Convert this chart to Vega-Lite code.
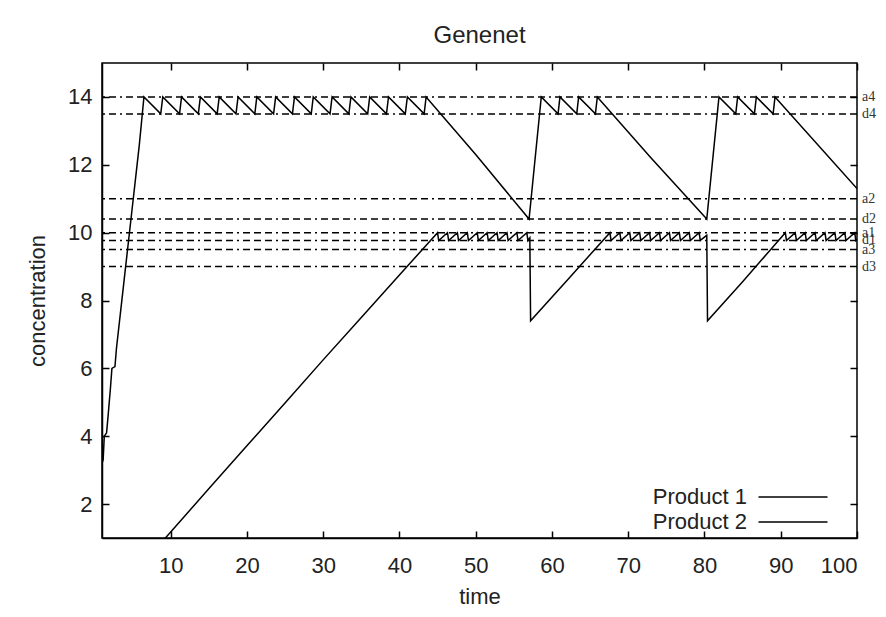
{
  "$schema": "https://vega.github.io/schema/vega-lite/v6.json",
  "width": 755,
  "height": 475,
  "autosize": {"type": "none"},
  "padding": {"left": 102, "top": 63, "right": 29, "bottom": 79},
  "background": "white",
  "title": {"text": "Genenet", "fontSize": 24, "font": "Liberation Sans", "fontWeight": "normal", "color": "#222", "offset": 14, "anchor": "middle"},
  "config": {
    "view": {"stroke": "black", "strokeWidth": 1.5},
    "axis": {"domainColor": "black", "domainWidth": 1.5, "tickColor": "black", "tickWidth": 1.5, "tickSize": -7, "grid": false,
      "labelFont": "Liberation Sans", "labelFontSize": 22, "labelColor": "#222", "titleFont": "Liberation Sans", "titleFontSize": 22, "titleFontWeight": "normal", "titleColor": "#222"}
  },
  "datasets": {
    "curves": [
      {"t": 1, "c": 3.2, "series": "Product 1"}, {"t": 1.15, "c": 3.3, "series": "Product 1"}, {"t": 1.3, "c": 4.0, "series": "Product 1"}, {"t": 1.6, "c": 4.1, "series": "Product 1"}, {"t": 1.8, "c": 4.6, "series": "Product 1"}, {"t": 2.1, "c": 5.4, "series": "Product 1"}, {"t": 2.3, "c": 6.0, "series": "Product 1"}, {"t": 2.7, "c": 6.05, "series": "Product 1"}, {"t": 2.9, "c": 6.6, "series": "Product 1"}, {"t": 3.4, "c": 7.6, "series": "Product 1"}, {"t": 3.9, "c": 8.6, "series": "Product 1"}, {"t": 4.4, "c": 9.6, "series": "Product 1"}, {"t": 4.9, "c": 10.6, "series": "Product 1"}, {"t": 5.4, "c": 11.6, "series": "Product 1"}, {"t": 5.9, "c": 12.6, "series": "Product 1"}, {"t": 6.2, "c": 13.3, "series": "Product 1"},
      {"t": 6.5, "c": 14, "series": "Product 1"}, {"t": 8.7, "c": 13.5, "series": "Product 1"}, {"t": 8.97, "c": 14, "series": "Product 1"}, {"t": 11.17, "c": 13.5, "series": "Product 1"}, {"t": 11.43, "c": 14, "series": "Product 1"}, {"t": 13.63, "c": 13.5, "series": "Product 1"}, {"t": 13.9, "c": 14, "series": "Product 1"}, {"t": 16.1, "c": 13.5, "series": "Product 1"}, {"t": 16.37, "c": 14, "series": "Product 1"}, {"t": 18.57, "c": 13.5, "series": "Product 1"}, {"t": 18.84, "c": 14, "series": "Product 1"}, {"t": 21.04, "c": 13.5, "series": "Product 1"}, {"t": 21.3, "c": 14, "series": "Product 1"}, {"t": 23.5, "c": 13.5, "series": "Product 1"}, {"t": 23.77, "c": 14, "series": "Product 1"}, {"t": 25.97, "c": 13.5, "series": "Product 1"}, {"t": 26.24, "c": 14, "series": "Product 1"}, {"t": 28.44, "c": 13.5, "series": "Product 1"}, {"t": 28.7, "c": 14, "series": "Product 1"}, {"t": 30.9, "c": 13.5, "series": "Product 1"}, {"t": 31.17, "c": 14, "series": "Product 1"}, {"t": 33.37, "c": 13.5, "series": "Product 1"}, {"t": 33.64, "c": 14, "series": "Product 1"}, {"t": 35.84, "c": 13.5, "series": "Product 1"}, {"t": 36.1, "c": 14, "series": "Product 1"}, {"t": 38.3, "c": 13.5, "series": "Product 1"}, {"t": 38.57, "c": 14, "series": "Product 1"}, {"t": 40.77, "c": 13.5, "series": "Product 1"}, {"t": 41.04, "c": 14, "series": "Product 1"}, {"t": 43.24, "c": 13.5, "series": "Product 1"}, {"t": 43.5, "c": 14, "series": "Product 1"},
      {"t": 50, "c": 12.3, "series": "Product 1"}, {"t": 57.0, "c": 10.4, "series": "Product 1"}, {"t": 58.6, "c": 14, "series": "Product 1"}, {"t": 60.8, "c": 13.5, "series": "Product 1"}, {"t": 61.05, "c": 14, "series": "Product 1"}, {"t": 63.25, "c": 13.5, "series": "Product 1"}, {"t": 63.5, "c": 14, "series": "Product 1"}, {"t": 65.7, "c": 13.5, "series": "Product 1"}, {"t": 65.95, "c": 14, "series": "Product 1"},
      {"t": 73, "c": 12.2, "series": "Product 1"}, {"t": 80.3, "c": 10.4, "series": "Product 1"}, {"t": 81.9, "c": 14, "series": "Product 1"}, {"t": 84.1, "c": 13.5, "series": "Product 1"}, {"t": 84.35, "c": 14, "series": "Product 1"}, {"t": 86.55, "c": 13.5, "series": "Product 1"}, {"t": 86.8, "c": 14, "series": "Product 1"}, {"t": 89.0, "c": 13.5, "series": "Product 1"}, {"t": 89.25, "c": 14, "series": "Product 1"}, {"t": 100, "c": 11.3, "series": "Product 1"},
      {"t": 9.0, "c": 0.92, "series": "Product 2"}, {"t": 15, "c": 2.45, "series": "Product 2"}, {"t": 20, "c": 3.72, "series": "Product 2"}, {"t": 25, "c": 4.98, "series": "Product 2"}, {"t": 30, "c": 6.25, "series": "Product 2"}, {"t": 35, "c": 7.5, "series": "Product 2"}, {"t": 40, "c": 8.75, "series": "Product 2"},
      {"t": 45, "c": 10, "series": "Product 2"}, {"t": 45.15, "c": 9.77, "series": "Product 2"}, {"t": 46.3, "c": 10, "series": "Product 2"}, {"t": 46.45, "c": 9.77, "series": "Product 2"}, {"t": 47.6, "c": 10, "series": "Product 2"}, {"t": 47.75, "c": 9.77, "series": "Product 2"}, {"t": 48.9, "c": 10, "series": "Product 2"}, {"t": 49.05, "c": 9.77, "series": "Product 2"}, {"t": 50.2, "c": 10, "series": "Product 2"}, {"t": 50.35, "c": 9.77, "series": "Product 2"}, {"t": 51.5, "c": 10, "series": "Product 2"}, {"t": 51.65, "c": 9.77, "series": "Product 2"}, {"t": 52.8, "c": 10, "series": "Product 2"}, {"t": 52.95, "c": 9.77, "series": "Product 2"}, {"t": 54.1, "c": 10, "series": "Product 2"}, {"t": 54.25, "c": 9.77, "series": "Product 2"}, {"t": 55.4, "c": 10, "series": "Product 2"}, {"t": 55.55, "c": 9.77, "series": "Product 2"}, {"t": 56.7, "c": 10, "series": "Product 2"}, {"t": 56.85, "c": 9.77, "series": "Product 2"}, {"t": 57.1, "c": 9.85, "series": "Product 2"}, {"t": 57.2, "c": 7.4, "series": "Product 2"},
      {"t": 62, "c": 8.6, "series": "Product 2"}, {"t": 67.6, "c": 10, "series": "Product 2"}, {"t": 67.75, "c": 9.77, "series": "Product 2"}, {"t": 68.9, "c": 10, "series": "Product 2"}, {"t": 69.05, "c": 9.77, "series": "Product 2"}, {"t": 70.2, "c": 10, "series": "Product 2"}, {"t": 70.35, "c": 9.77, "series": "Product 2"}, {"t": 71.5, "c": 10, "series": "Product 2"}, {"t": 71.65, "c": 9.77, "series": "Product 2"}, {"t": 72.8, "c": 10, "series": "Product 2"}, {"t": 72.95, "c": 9.77, "series": "Product 2"}, {"t": 74.1, "c": 10, "series": "Product 2"}, {"t": 74.25, "c": 9.77, "series": "Product 2"}, {"t": 75.4, "c": 10, "series": "Product 2"}, {"t": 75.55, "c": 9.77, "series": "Product 2"}, {"t": 76.7, "c": 10, "series": "Product 2"}, {"t": 76.85, "c": 9.77, "series": "Product 2"}, {"t": 78.0, "c": 10, "series": "Product 2"}, {"t": 78.15, "c": 9.77, "series": "Product 2"}, {"t": 79.3, "c": 10, "series": "Product 2"}, {"t": 79.45, "c": 9.77, "series": "Product 2"}, {"t": 80.3, "c": 9.92, "series": "Product 2"}, {"t": 80.4, "c": 7.4, "series": "Product 2"},
      {"t": 85, "c": 8.55, "series": "Product 2"}, {"t": 90.6, "c": 10, "series": "Product 2"}, {"t": 90.75, "c": 9.77, "series": "Product 2"}, {"t": 91.9, "c": 10, "series": "Product 2"}, {"t": 92.05, "c": 9.77, "series": "Product 2"}, {"t": 93.2, "c": 10, "series": "Product 2"}, {"t": 93.35, "c": 9.77, "series": "Product 2"}, {"t": 94.5, "c": 10, "series": "Product 2"}, {"t": 94.65, "c": 9.77, "series": "Product 2"}, {"t": 95.8, "c": 10, "series": "Product 2"}, {"t": 95.95, "c": 9.77, "series": "Product 2"}, {"t": 97.1, "c": 10, "series": "Product 2"}, {"t": 97.25, "c": 9.77, "series": "Product 2"}, {"t": 98.4, "c": 10, "series": "Product 2"}, {"t": 98.55, "c": 9.77, "series": "Product 2"}, {"t": 99.7, "c": 10, "series": "Product 2"}, {"t": 99.85, "c": 9.77, "series": "Product 2"}, {"t": 100, "c": 9.81, "series": "Product 2"}
    ],
    "levels": [
      {"name": "a4", "v": 14}, {"name": "d4", "v": 13.5}, {"name": "a2", "v": 11}, {"name": "d2", "v": 10.4},
      {"name": "a1", "v": 10}, {"name": "d1", "v": 9.77}, {"name": "a3", "v": 9.5}, {"name": "d3", "v": 9}
    ]
  },
  "layer": [
    {
      "data": {"name": "levels"},
      "mark": {"type": "rule", "color": "black", "strokeWidth": 1.5, "strokeDash": [7, 4, 7, 4, 7, 4, 2, 4]},
      "encoding": {
        "y": {"field": "v", "type": "quantitative", "scale": {"domain": [1, 15]}, "axis": null}
      }
    },
    {
      "data": {"name": "curves"},
      "mark": {"type": "line", "strokeWidth": 1.5, "clip": true},
      "encoding": {
        "x": {"field": "t", "type": "quantitative", "scale": {"domain": [1, 100], "nice": false, "zero": false},
          "axis": {"orient": "bottom", "values": [10, 20, 30, 40, 50, 60, 70, 80, 90, 100], "title": "time", "labelPadding": 24, "titlePadding": 10}},
        "y": {"field": "c", "type": "quantitative", "scale": {"domain": [1, 15], "nice": false, "zero": false},
          "axis": {"orient": "left", "values": [2, 4, 6, 8, 10, 12, 14], "title": "concentration", "labelPadding": 17, "titlePadding": 18}},
        "color": {"field": "series", "type": "nominal", "scale": {"range": ["black", "black"]},
          "legend": {"orient": "none", "legendX": 680, "legendY": 423, "title": null, "symbolType": "M-3.45,0H3.45", "symbolSize": 400, "symbolStrokeWidth": 1.5, "symbolFillColor": "transparent",
            "labelFont": "Liberation Sans", "labelFontSize": 22, "labelColor": "#222", "labelAlign": "right", "labelOffset": -57, "rowPadding": 3, "padding": 0}}
      }
    },
    {
      "data": {"name": "levels"},
      "mark": {"type": "text", "align": "left", "baseline": "middle", "dx": 5, "font": "Liberation Serif", "fontSize": 14, "color": "#333"},
      "encoding": {
        "x": {"datum": 100, "type": "quantitative", "axis": {"orient": "top", "values": [10, 20, 30, 40, 50, 60, 70, 80, 90, 100], "labels": false, "title": null, "domain": false}},
        "y": {"field": "v", "type": "quantitative", "axis": {"orient": "right", "values": [2, 4, 6, 8, 10, 12, 14], "labels": false, "title": null, "domain": false}},
        "text": {"field": "name"}
      }
    }
  ],
  "resolve": {"axis": {"x": "independent", "y": "independent"}}
}
